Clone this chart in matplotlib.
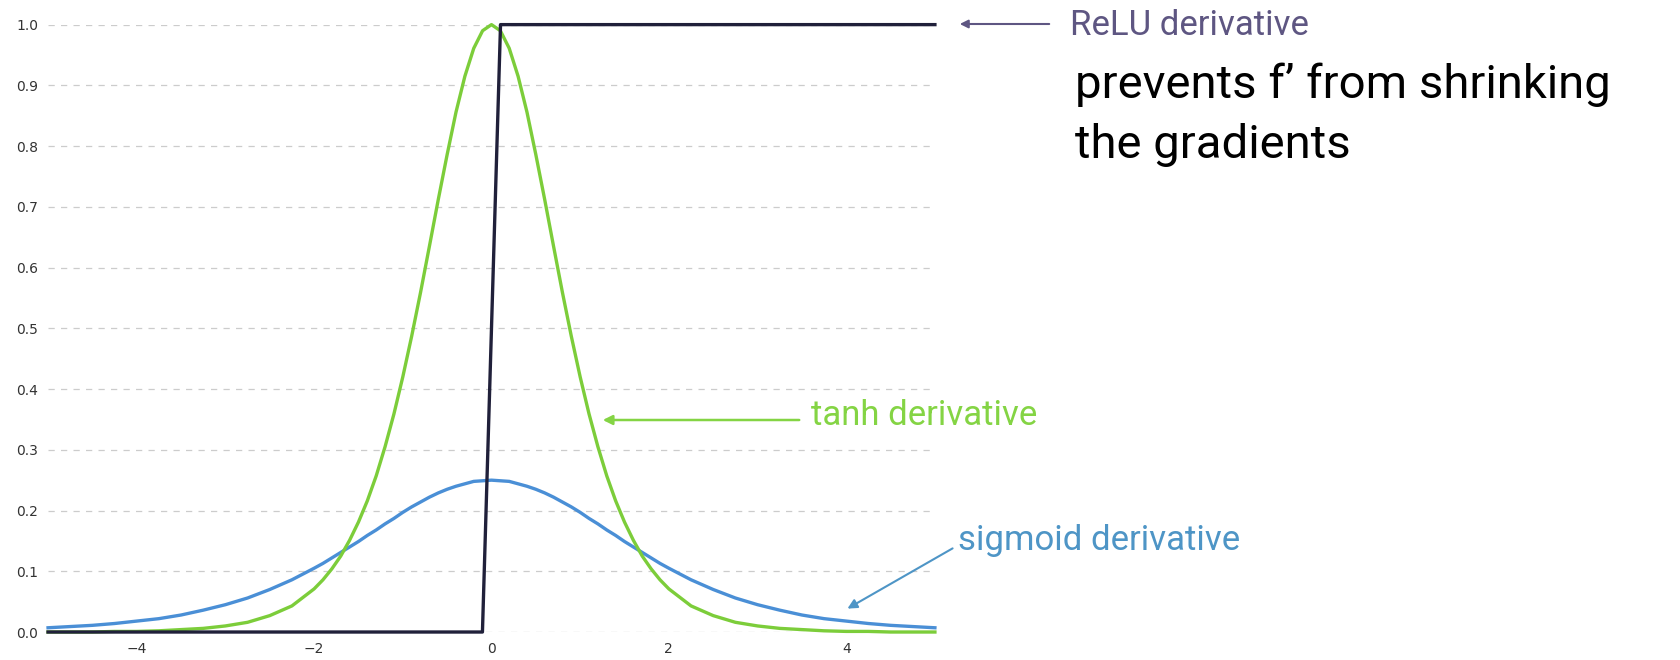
import matplotlib.pyplot as plt
import numpy as np

# sample points of the curves (finer near the middle)
x = [-5.00, -4.75, -4.50, -4.25, -4.00, -3.75, -3.50, -3.25, -3.00, -2.75, -2.50, -2.25,
     -2.0, -1.9, -1.8, -1.7, -1.6, -1.5, -1.4, -1.3, -1.2, -1.1, -1.0,
     -0.9, -0.8, -0.7, -0.6, -0.5, -0.4, -0.3, -0.2, -0.1, 0.0,
     0.1, 0.2, 0.3, 0.4, 0.5, 0.6, 0.7, 0.8, 0.9, 1.0,
     1.1, 1.2, 1.3, 1.4, 1.5, 1.6, 1.7, 1.8, 1.9, 2.0,
     2.25, 2.50, 2.75, 3.00, 3.25, 3.50, 3.75, 4.00, 4.25, 4.50, 4.75, 5.00]

sigmoid_d = [0.007, 0.009, 0.011, 0.014, 0.018, 0.022, 0.028, 0.036, 0.045, 0.056, 0.070, 0.086,
             0.105, 0.113, 0.122, 0.131, 0.140, 0.149, 0.159, 0.168, 0.178, 0.187, 0.197,
             0.206, 0.214, 0.222, 0.229, 0.235, 0.240, 0.244, 0.248, 0.249, 0.250,
             0.249, 0.248, 0.244, 0.240, 0.235, 0.229, 0.222, 0.214, 0.206, 0.197,
             0.187, 0.178, 0.168, 0.159, 0.149, 0.140, 0.131, 0.122, 0.113, 0.105,
             0.086, 0.070, 0.056, 0.045, 0.036, 0.028, 0.022, 0.018, 0.014, 0.011, 0.009, 0.007]

tanh_d = [0.000, 0.000, 0.000, 0.001, 0.001, 0.002, 0.004, 0.006, 0.010, 0.016, 0.027, 0.043,
          0.071, 0.086, 0.104, 0.125, 0.151, 0.181, 0.216, 0.257, 0.305, 0.359, 0.420,
          0.487, 0.559, 0.635, 0.712, 0.786, 0.856, 0.915, 0.961, 0.990, 1.000,
          0.990, 0.961, 0.915, 0.856, 0.786, 0.712, 0.635, 0.559, 0.487, 0.420,
          0.359, 0.305, 0.257, 0.216, 0.181, 0.151, 0.125, 0.104, 0.086, 0.071,
          0.043, 0.027, 0.016, 0.010, 0.006, 0.004, 0.002, 0.001, 0.001, 0.000, 0.000, 0.000]

relu_x = [-5.000, -0.102, 0.102, 5.000]
relu_d = [0.0, 0.0, 1.0, 1.0]

yticks = [0.0, 0.1, 0.2, 0.3, 0.4, 0.5, 0.6, 0.7, 0.8, 0.9, 1.0]
xticks = [-4, -2, 0, 2, 4]

green = '#7ccd3a'
blue = '#4a8fd6'
navy = '#20203a'

fig = plt.figure(figsize=(16.8, 6.6), dpi=100)
ax = fig.add_axes([0.0286, 0.0424, 0.5279, 0.9203])

ax.plot(x, sigmoid_d, color=blue, lw=2.4, clip_on=False, zorder=3)
ax.plot(x, tanh_d, color=green, lw=2.4, clip_on=False, zorder=4)
ax.plot(relu_x, relu_d, color=navy, lw=2.4, clip_on=False, zorder=5)

ax.set_xlim(-5, 5)
ax.set_ylim(0, 1)
ax.set_yticks(yticks)
ax.set_yticklabels(['%.1f' % v for v in yticks])
ax.set_xticks(xticks)
ax.set_xticklabels(['\u2212%d' % -v if v < 0 else '%d' % v for v in xticks])
ax.tick_params(length=0, labelsize=10, labelcolor='#333333', pad=7)
for s in ax.spines.values():
    s.set_visible(False)
ax.yaxis.grid(True, ls=(0, (5, 5)), color='#cccccc', lw=0.9)
ax.set_axisbelow(True)

# annotations (figure pixel coords, origin top-left)
W, H = 1680, 660
def fp(px, py):
    return (px / W, 1 - py / H)

ax.annotate('', xy=fp(957, 24), xytext=fp(1052, 24), xycoords='figure fraction',
            arrowprops=dict(arrowstyle='-|>', color='#5e5682', lw=1.5, mutation_scale=12))
fig.text(*fp(1070, 35), 'ReLU derivative', family='Roboto', fontsize=25,
         color='#5e5682', va='baseline', ha='left')

fig.text(*fp(1075, 98), 'prevents f\u2019 from shrinking', family='Roboto',
         fontsize=34, color='black', va='baseline', ha='left')
fig.text(*fp(1075, 158), 'the gradients', family='Roboto',
         fontsize=34, color='black', va='baseline', ha='left')

ax.annotate('', xy=fp(600, 420), xytext=fp(802, 420), xycoords='figure fraction',
            arrowprops=dict(arrowstyle='-|>', color='#84d444', lw=1.8, mutation_scale=14))
fig.text(*fp(811, 425), 'tanh derivative', family='Roboto', fontsize=25,
         color='#84d444', va='baseline', ha='left')

ax.annotate('', xy=fp(845, 610), xytext=fp(955, 547), xycoords='figure fraction',
            arrowprops=dict(arrowstyle='-|>', color='#4e95c6', lw=1.5, mutation_scale=14))
fig.text(*fp(958, 550), 'sigmoid derivative', family='Roboto', fontsize=25,
         color='#4e95c6', va='baseline', ha='left')

plt.savefig('out.png', dpi=100)
